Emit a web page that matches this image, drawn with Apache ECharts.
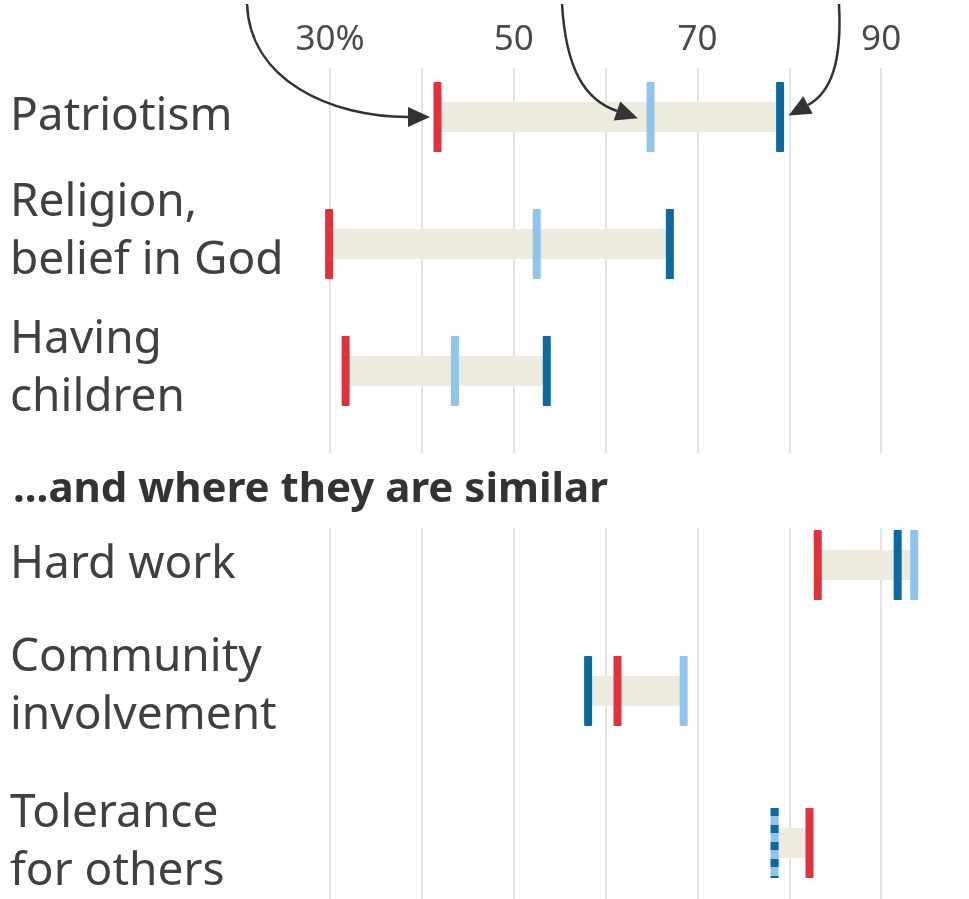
<!DOCTYPE html>
<html>
<head>
<meta charset="utf-8">
<script src="https://cdn.jsdelivr.net/npm/echarts@6/dist/echarts.min.js"></script>
<style>
html, body { margin: 0; padding: 0; background: #fff; }
#chart { width: 969px; height: 899px; }
</style>
</head>
<body>
<div id="chart"></div>
<script>
// rows, top to bottom
var categories = ['Patriotism', 'Religion,\nbelief in God', 'Having\nchildren',
  'Hard work', 'Community\ninvolvement', 'Tolerance\nfor others'];
var redValues = [41.7, 29.9, 31.7, 83.1, 61.3, 82.2];
var lightBlueValues = [64.9, 52.5, 43.6, 93.6, 68.5, 78.4];
var darkBlueValues = [79.0, 67.0, 53.6, 91.8, 58.1, 78.4];
var tickValues = [30, 50, 70, 90];
var tickLabels = ['30%', '50', '70', '90'];
var heading = '...and where they are similar';

// layout
var rowCenters = [117, 244, 371, 565, 691, 843];
var labelShift = [0, 12, 2, 0, 4, 0];
var RED = '#e0323d', LIGHT = '#8ec5ea', DARK = '#0b6a9f', BEIGE = '#edebdd';
var GRID_LINE = '#e4e4e4', TEXT = '#404040';
var FONT = '"Noto Sans", "Open Sans", sans-serif';
var PLOT_LEFT = 330, PLOT_WIDTH = 643;

var chart = echarts.init(document.getElementById('chart'));

var grids = [
  { left: PLOT_LEFT, width: PLOT_WIDTH, top: 68, height: 385, outerBoundsMode: 'none' },
  { left: PLOT_LEFT, width: PLOT_WIDTH, top: 528, height: 371, outerBoundsMode: 'none' }
];
var xAxes = [], yAxes = [], series = [];

for (var g = 0; g < 2; g++) {
  xAxes.push({
    gridIndex: g, type: 'value', min: 30, max: 100, interval: 10,
    position: 'top',
    axisLine: { show: false }, axisTick: { show: false },
    splitLine: { show: true, lineStyle: { color: GRID_LINE, width: 2 } },
    axisLabel: {
      show: g === 0, margin: 10, fontSize: 35, color: '#4a4a4a', fontFamily: FONT,
      formatter: function (v) {
        var i = tickValues.indexOf(v);
        return i >= 0 ? tickLabels[i] : '';
      }
    }
  });
  yAxes.push({ gridIndex: g, type: 'value', show: false });
}

function renderRow(params, api) {
  var vals = [api.value(0), api.value(1), api.value(2)];
  var xs = vals.map(function (v) { return api.coord([v, 0])[0]; });
  var yc = api.coord([30, 0])[1];
  var lo = Math.min.apply(null, xs), hi = Math.max.apply(null, xs);
  var kids = [{
    type: 'rect', shape: { x: lo, y: yc - 15, width: hi - lo, height: 30 },
    style: { fill: BEIGE }
  }];
  function tick(x, color) {
    kids.push({
      type: 'rect', shape: { x: x - 4, y: yc - 35, width: 8, height: 70, r: 1 },
      style: { fill: color }
    });
  }
  tick(xs[1], LIGHT);
  if (Math.abs(vals[2] - vals[1]) < 0.01) {
    // same share for both blues: dashed dark over light
    kids.push({
      type: 'line', shape: { x1: xs[2], y1: yc - 35, x2: xs[2], y2: yc + 35 },
      style: { stroke: DARK, lineWidth: 8, lineDash: [8, 9] }
    });
  } else {
    tick(xs[2], DARK);
  }
  tick(xs[0], RED);
  return { type: 'group', children: kids };
}

categories.forEach(function (name, i) {
  var gi = grids.length;
  var shift = labelShift[i];
  grids.push({ left: PLOT_LEFT, width: PLOT_WIDTH, top: rowCenters[i] - 50, height: 100, outerBoundsMode: 'none' });
  xAxes.push({ gridIndex: gi, type: 'value', min: 30, max: 100, show: false });
  yAxes.push({
    gridIndex: gi, type: 'category', data: [name],
    axisLine: { show: false }, axisTick: { show: false }, splitLine: { show: false },
    axisLabel: {
      margin: 320, align: 'left',
      formatter: function (v) {
        var txt = v.split('\n').map(function (l) { return '{t|' + l + '}'; }).join('\n');
        return shift ? txt + '\n{s|}' : txt;
      },
      rich: {
        t: { fontSize: 46, lineHeight: 58, color: TEXT, fontFamily: FONT },
        s: { fontSize: 1, lineHeight: shift * 2, height: shift * 2 }
      }
    }
  });
  series.push({
    type: 'custom', xAxisIndex: gi, yAxisIndex: gi,
    renderItem: renderRow,
    encode: { x: [0, 1, 2], y: 3 },
    data: [[redValues[i], lightBlueValues[i], darkBlueValues[i], 0]]
  });
});

// pointer arrows from the (cropped) legend notes above
function arrow(p0, c1, c2, p1) {
  var dx = p1[0] - c2[0], dy = p1[1] - c2[1];
  var n = Math.sqrt(dx * dx + dy * dy); dx /= n; dy /= n;
  var tip = [p1[0] + dx * 22, p1[1] + dy * 22];
  return [{
    type: 'bezierCurve', z: 10,
    shape: { x1: p0[0], y1: p0[1], cpx1: c1[0], cpy1: c1[1], cpx2: c2[0], cpy2: c2[1], x2: p1[0], y2: p1[1] },
    style: { stroke: '#333', lineWidth: 2.5, fill: null }
  }, {
    type: 'polygon', z: 10,
    shape: { points: [tip, [p1[0] - dy * 10, p1[1] + dx * 10], [p1[0] + dy * 10, p1[1] - dx * 10]] },
    style: { fill: '#333' }
  }];
}
var arrows = [].concat(
  arrow([247, 4], [250, 80], [330, 117], [408, 117]),
  arrow([562, 4], [566, 70], [585, 100], [617, 111]),
  arrow([839, 4], [842, 60], [832, 92], [808, 105])
);

chart.setOption({
  animation: false,
  title: {
    text: heading, left: 8, top: 464,
    textStyle: { fontSize: 42, fontWeight: 'bold', color: '#333', fontFamily: FONT }
  },
  grid: grids,
  xAxis: xAxes,
  yAxis: yAxes,
  series: series,
  graphic: arrows
});
</script>
</body>
</html>
